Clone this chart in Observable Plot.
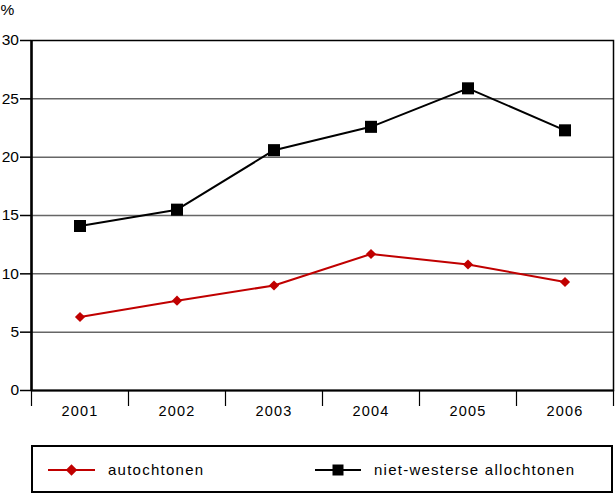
<!DOCTYPE html>
<html>
<head>
<meta charset="utf-8">
<script src="https://cdn.jsdelivr.net/npm/d3@7"></script>
<script src="https://cdn.jsdelivr.net/npm/@observablehq/plot@0.6"></script>
<style>
  body { margin: 0; background: #fff; font-family: "Liberation Sans", Arial, sans-serif; }
  #wrap { position: relative; width: 615px; height: 494px; }
  #legend { position: absolute; left: 31px; top: 445px; width: 578px; height: 44px; border: 2px solid #000; font-size: 15px; letter-spacing: 1.25px; }
  .item { position: absolute; top: 15px; height: 16px; line-height: 16px; display: flex; align-items: center; }
  .item svg { display: block; }
  .years text { letter-spacing: 1.2px; }
</style>
</head>
<body>
<div id="wrap"><div id="chart"></div><div id="legend"></div></div>
<script>
const years = [2001, 2002, 2003, 2004, 2005, 2006];
const autochtonen = [6.3, 7.7, 9.0, 11.7, 10.8, 9.3];
const nietWesters = [14.1, 15.5, 20.6, 22.6, 25.9, 22.3];
const seriesNames = ["autochtonen", "niet-westerse allochtonen"];
const yTicks = [0, 5, 10, 15, 20, 25, 30];
const bandEdges = [2000.5, 2001.5, 2002.5, 2003.5, 2004.5, 2005.5, 2006.5];

const red = "#c00000";
const dataA = years.map((y, i) => ({year: y, value: autochtonen[i]}));
const dataN = years.map((y, i) => ({year: y, value: nietWesters[i]}));

const chart = Plot.plot({
  width: 615,
  height: 430,
  marginTop: 40,
  marginBottom: 40,
  marginLeft: 31,
  marginRight: 2,
  style: {fontFamily: "Liberation Sans, Arial, sans-serif", fontSize: "15px", color: "#000"},
  x: {domain: [2000.5, 2006.5], label: null},
  y: {domain: [0, 30]},
  marks: [
    Plot.ruleY(yTicks.filter(d => d > 0 && d < 30), {stroke: "#666", strokeWidth: 1.5}),
    Plot.axisY(yTicks, {tickSize: 11, tickPadding: 1.5, strokeWidth: 1.5, label: "%", labelAnchor: "top", labelArrow: "none", labelOffset: 31, fontSize: 15.5}),
    Plot.axisX(bandEdges, {tickSize: 16, tickFormat: () => "", strokeWidth: 1.2, label: null}),
    Plot.axisX(years, {tickSize: 0, tickPadding: 15, tickFormat: d => String(d), label: null, fontSize: 14.5, className: "years"}),
    Plot.frame({stroke: "#000", strokeWidth: 1.5}),
    Plot.ruleX([2000.5], {stroke: "#000", strokeWidth: 2.5}),
    Plot.ruleY([0], {stroke: "#000", strokeWidth: 2}),
    Plot.line(dataA, {x: "year", y: "value", stroke: red, strokeWidth: 2}),
    Plot.dot(dataA, {x: "year", y: "value", symbol: "diamond2", r: 4.6, fill: red}),
    Plot.line(dataN, {x: "year", y: "value", stroke: "#000", strokeWidth: 2}),
    Plot.dot(dataN, {x: "year", y: "value", symbol: "square", r: 6.8, fill: "#000"})
  ]
});
document.getElementById("chart").appendChild(chart);

const legend = document.getElementById("legend");
const swatches = [
  {name: seriesNames[0], color: red, left: 15, w: 47, gap: 13, sym: d3.symbolDiamond2, size: 84},
  {name: seriesNames[1], color: "#000", left: 282, w: 46, gap: 13, sym: d3.symbolSquare, size: 121}
];
for (const s of swatches) {
  const div = document.createElement("div");
  div.className = "item";
  div.style.left = s.left + "px";
  const path = d3.symbol(s.sym, s.size)();
  div.innerHTML = `<svg width="${s.w}" height="16" style="margin-right:${s.gap}px"><line x1="0" x2="${s.w}" y1="8" y2="8" stroke="${s.color}" stroke-width="2"/><path transform="translate(${s.w / 2},8)" d="${path}" fill="${s.color}"/></svg><span>${s.name}</span>`;
  legend.appendChild(div);
}
</script>
</body>
</html>
